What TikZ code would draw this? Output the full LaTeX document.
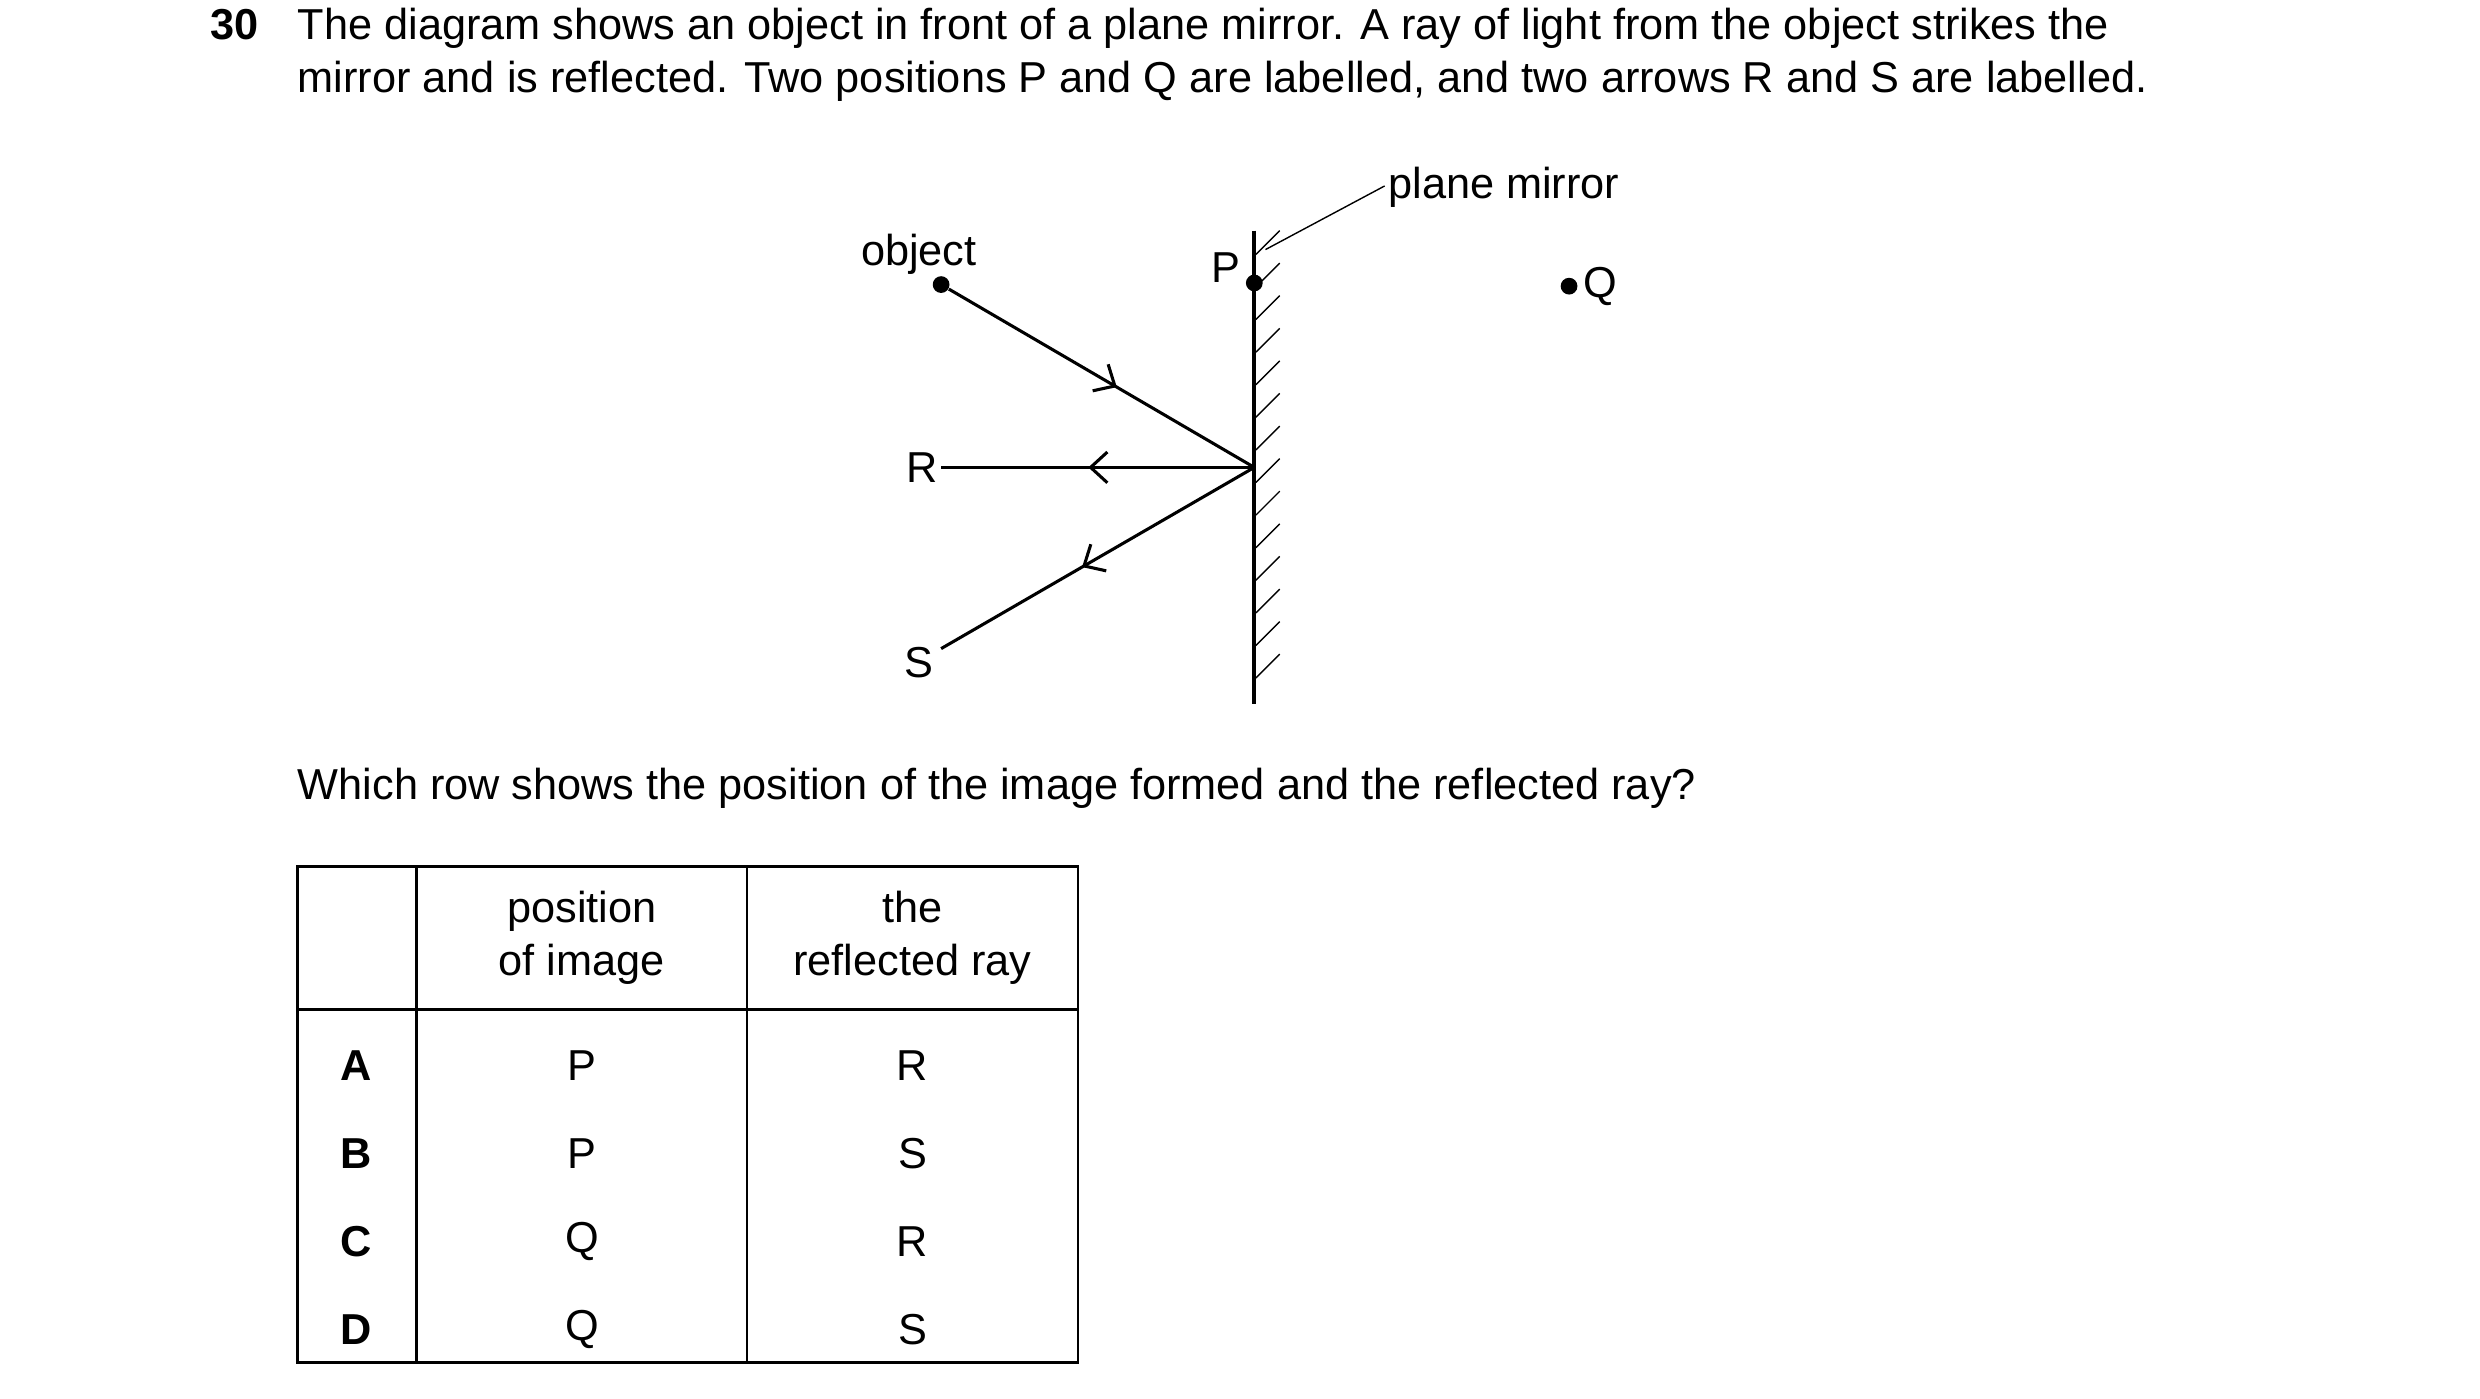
\documentclass[tikz,border=0pt]{standalone}
\usepackage{fontspec}
\setmainfont{Liberation Sans}
\usetikzlibrary{positioning,arrows.meta,decorations.markings}
\tikzset{
  txt/.style   = {inner sep=0pt, font=\fontsize{15.5}{19}\selectfont},
  ray/.style   = {line width=1.1pt},
  midarrow/.style = {decoration={markings,
      mark=at position #1 with {\arrow{Straight Barb[length=6pt,width=11pt]}}},
      postaction={decorate}},
  dot/.style   = {circle, fill, inner sep=0pt, minimum size=6pt},
  cell/.style  = {txt, align=center}
}
\begin{document}
\begin{tikzpicture}[x=0.02cm,y=-0.02cm]
\useasboundingbox (0,0) rectangle (1560,880);
% question text
\node[txt, anchor=base east, font=\fontsize{15.5}{19}\selectfont\bfseries] (num) at (163,25) {30};
\node[txt, anchor=base west] (l1) at (187,25) {The diagram shows an object in front of a plane mirror. A ray of light from the object strikes the};
\node[txt, anchor=base west] (l2) at (187,58) {mirror and is reflected. Two positions P and Q are labelled, and two arrows R and S are labelled.};
% mirror
\coordinate (mtop) at (789,145);
\coordinate (mbot) at (789,443);
\draw[line width=1.4pt] (mtop) -- (mbot);
\foreach \y in {160,180.5,...,445}
  \draw[line width=0.5pt] (790,\y) -- (805,\y-15);
\node[txt, anchor=base west] (mlab) at (873,125) {plane mirror};
\coordinate (lead) at (796,157);
\draw[line width=0.5pt] (mlab.west) ++(-2,-1) -- (lead);
% object and rays
\node[dot] (obj) at (592,179) {};
\node[txt, anchor=base] (objlab) at (578,167) {object};
\coordinate (hit) at (789,294);
\coordinate (rend) at (592,294);
\coordinate (send) at (592,408);
\draw[ray, midarrow=0.55] (obj) -- (hit);
\draw[ray, midarrow=0.53] (hit) -- (rend);
\draw[ray, midarrow=0.55] (hit) -- (send);
\node[txt, anchor=east] (R) at (590,294) {R};
\node[txt, anchor=base] (S) at (578,426) {S};
% positions
\node[dot] (P) at (789,178) {};
\node[txt, anchor=base] (Plab) at (771,178) {P};
\node[dot] (Q) at (987,180) {};
\node[txt, anchor=west] (Qlab) at (996,180) {Q};
% question
\node[txt, anchor=base west] (ask) at (187,503) {Which row shows the position of the image formed and the reflected ray?};
% table
\draw[line width=0.9pt] (187,545) rectangle (678,857);
\draw[line width=0.9pt] (262,545) -- (262,857) (470,545) -- (470,857) (187,635) -- (678,635);
\node[cell] (h1) at (366,590) {position\\of image};
\node[cell] (h2) at (574,590) {the\\reflected ray};
\foreach \k/\p/\r [count=\i from 0] in {A/P/R, B/P/S, C/Q/R, D/Q/S} {
  \node[cell, font=\fontsize{15.5}{19}\selectfont\bfseries] (k\k) at (224,670+55.5*\i) {\k};
  \node[cell] (p\k) at (366,670+55.5*\i) {\p};
  \node[cell] (r\k) at (574,670+55.5*\i) {\r};
}
\end{tikzpicture}
\end{document}
